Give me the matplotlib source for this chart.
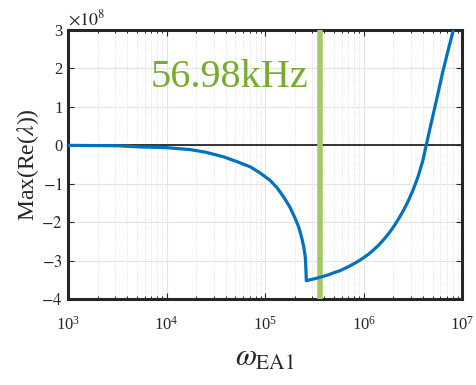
import matplotlib
matplotlib.use("Agg")
import matplotlib.pyplot as plt
import numpy as np
from matplotlib.ticker import LogLocator, LogFormatterMathtext

plt.rcParams['font.family'] = ['Liberation Serif', 'DejaVu Serif']
plt.rcParams['mathtext.fontset'] = 'stix'

# curve: log10(omega) and value in units of 1e8
log_omega = [3.0, 3.5, 3.73, 4.0, 4.24, 4.4, 4.58, 4.7, 4.85, 4.95,
             5.05, 5.12, 5.19, 5.25, 5.30, 5.34, 5.37, 5.39, 5.405, 5.41,
             5.415, 5.418,
             5.45, 5.50, 5.558, 5.60, 5.65, 5.70, 5.76, 5.80, 5.85, 5.90,
             5.96, 6.00, 6.05, 6.10, 6.15, 6.20, 6.25, 6.30, 6.35, 6.40,
             6.45, 6.50, 6.55, 6.60, 6.635, 6.65, 6.70, 6.75, 6.80, 6.85,
             6.90, 6.91]
value = [0.0, -0.01, -0.04, -0.06, -0.11, -0.18, -0.30, -0.41, -0.56, -0.72,
         -0.91, -1.10, -1.35, -1.60, -1.87, -2.12, -2.39, -2.62, -2.85, -3.0,
         -3.3, -3.52,
         -3.50, -3.47, -3.43, -3.40, -3.36, -3.31, -3.26, -3.21, -3.15, -3.08,
         -2.99, -2.92, -2.83, -2.72, -2.60, -2.46, -2.31, -2.13, -1.93, -1.71,
         -1.46, -1.17, -0.83, -0.40, 0.0, 0.18, 0.74, 1.30, 1.88, 2.40,
         2.90, 3.0]

f_marker = 56.98e3  # Hz
omega_marker = 2 * np.pi * f_marker

yticks = [-4, -3, -2, -1, 0, 1, 2, 3]
ytick_labels = ['$-4$', '$-3$', '$-2$', '$-1$', '0', '1', '2', '3']

fig = plt.figure(figsize=(4.76, 3.85), dpi=100)
ax = fig.add_axes([0.143, 0.223, 0.828, 0.699])

ax.axhline(0, color='#262626', lw=1.3, zorder=2)
ax.axvline(omega_marker, color='#a5c867', lw=4, zorder=3)
ax.semilogx(10 ** np.array(log_omega), value, color='#0072BD', lw=2.3,
            zorder=4)

ax.set_xlim(1e3, 1e7)
ax.set_ylim(-4, 3)
ax.set_yticks(yticks)
ax.set_yticklabels(ytick_labels)
ax.xaxis.set_major_locator(LogLocator(base=10, numticks=10))
ax.xaxis.set_major_formatter(LogFormatterMathtext())

ax.grid(True, which='major', color='#e4e4e4', lw=0.8, ls='-')
ax.grid(True, which='minor', axis='x', color='#d8d8d8', lw=0.6, ls=':')
ax.set_axisbelow(True)

ax.tick_params(axis='both', which='major', direction='in', length=4,
               labelsize=12, colors='#262626', top=True, right=True)
ax.tick_params(axis='x', which='minor', direction='in', length=2,
               top=True, bottom=True)
ax.tick_params(axis='x', which='major', pad=12)
ax.tick_params(axis='y', which='major', pad=4)
for s in ax.spines.values():
    s.set_linewidth(2.2)
    s.set_color('#262626')

ax.text(0.0, 1.005, r'$\times 10^8$', transform=ax.transAxes, fontsize=13,
        color='#262626', va='bottom', ha='left')
ax.text(6.8e3, 1.51, '56.98kHz', fontsize=29, color='#77AC30',
        va='baseline', ha='left')

ax.set_ylabel(r'Max(Re($\lambda$))', fontsize=17, color='#262626', labelpad=0)
ax.set_xlabel(r'$\omega_{\mathrm{EA1}}$', fontsize=22, color='#262626',
              labelpad=7)

fig.savefig('out.png', dpi=100)
